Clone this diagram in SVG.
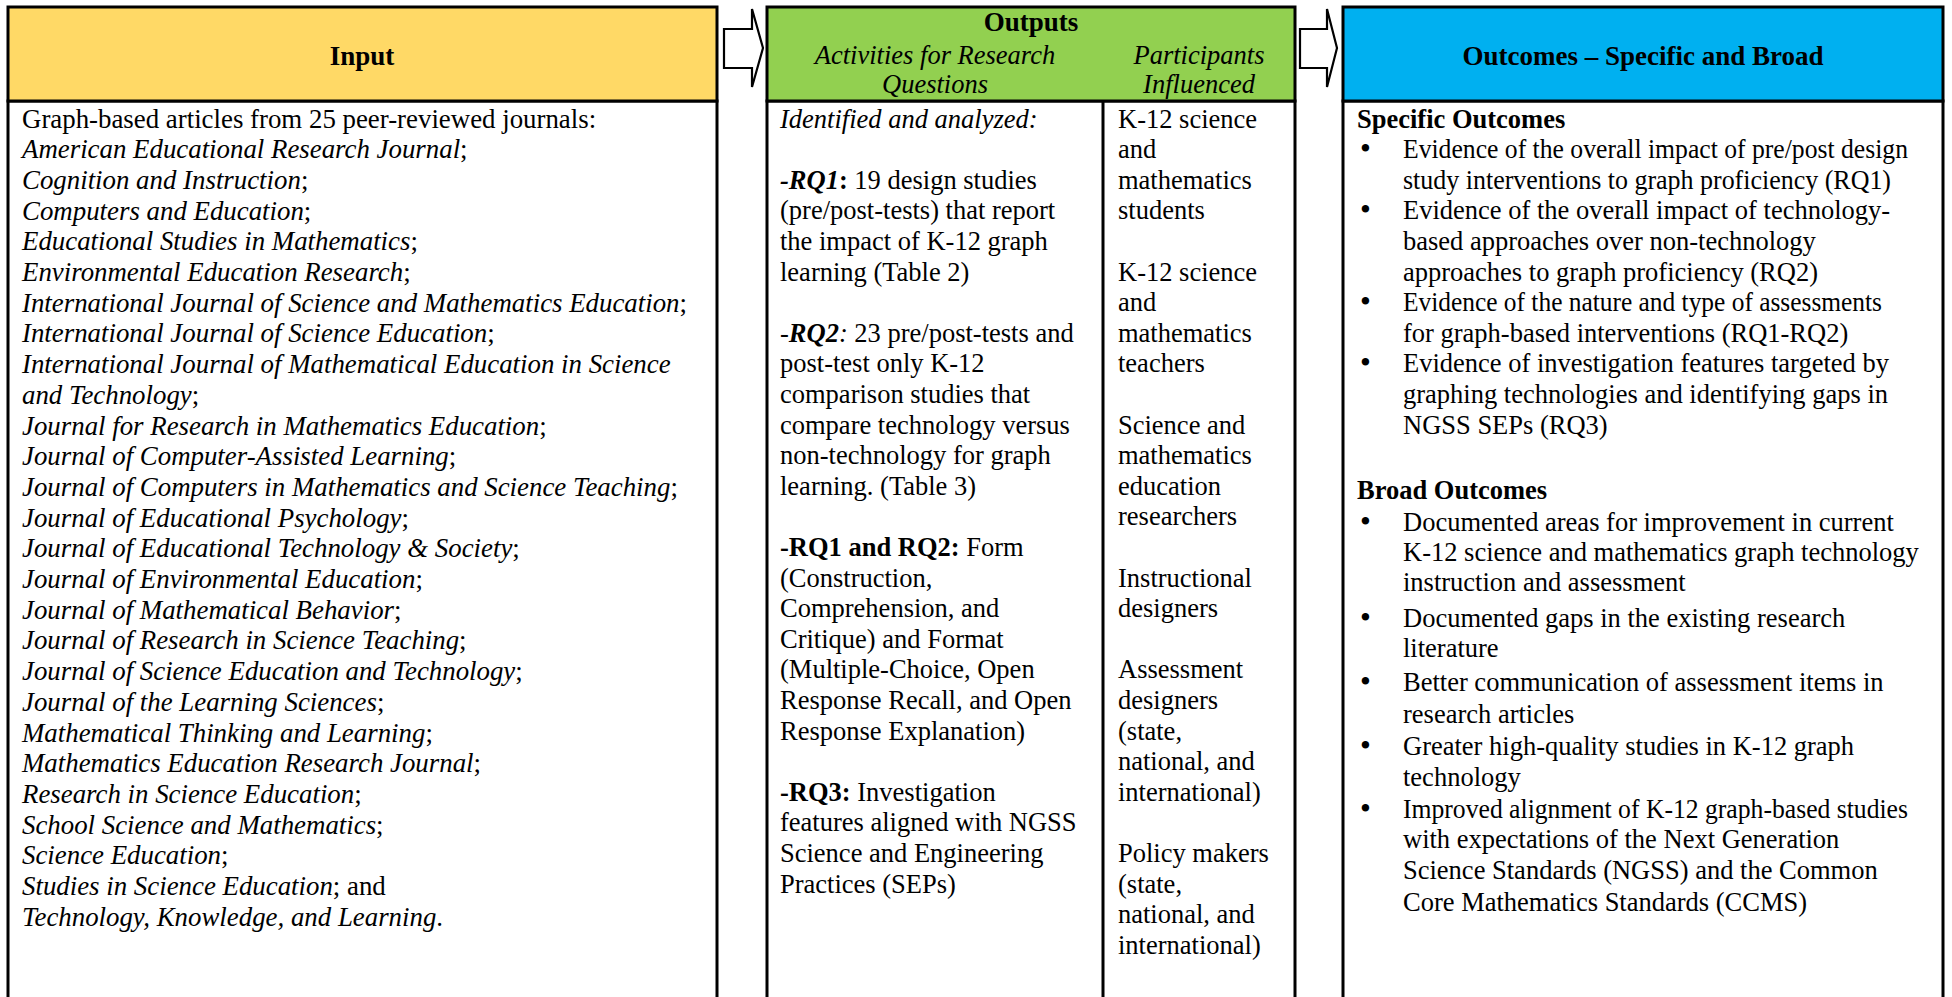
<svg xmlns="http://www.w3.org/2000/svg" width="1952" height="997" viewBox="0 0 1952 997">
  <style>
    text { font-family: "Liberation Serif", "Times New Roman", serif; font-size: 26.5px; fill: #000; }
    .src text { font-size: 26.85px; }
    .b { font-weight: bold; }
    .i { font-style: italic; }
    .hd { font-size: 27px; font-weight: bold; }
    .mid { text-anchor: middle; }
    .dot { font-size: 31px; }
    .frame { stroke: #000; stroke-width: 3; }
    .body { fill: #fff; }
    .arrow { fill: #fff; stroke: #000; stroke-width: 2.2; stroke-linejoin: miter; }
  </style>

  <rect width="1952" height="997" fill="#fff"/>

  <!-- Input column -->
  <g id="input">
    <rect class="frame body" x="8" y="101" width="709" height="910"/>
    <rect class="frame" x="8" y="7" width="709" height="94" fill="#FFD966"/>
    <text class="hd mid" x="362" y="65">Input</text>
    <g class="src">
      <text x="22" y="127.5">Graph-based articles from 25 peer-reviewed journals:</text>
      <text x="22" y="158.2"><tspan class="i">American Educational Research Journal</tspan>;</text>
      <text x="22" y="188.9"><tspan class="i">Cognition and Instruction</tspan>;</text>
      <text x="22" y="219.6"><tspan class="i">Computers and Education</tspan>;</text>
      <text x="22" y="250.3"><tspan class="i">Educational Studies in Mathematics</tspan>;</text>
      <text x="22" y="281"><tspan class="i">Environmental Education Research</tspan>;</text>
      <text x="22" y="311.7"><tspan class="i">International Journal of Science and Mathematics Education</tspan>;</text>
      <text x="22" y="342.4"><tspan class="i">International Journal of Science Education</tspan>;</text>
      <text x="22" y="373.1"><tspan class="i">International Journal of Mathematical Education in Science</tspan></text>
      <text x="22" y="403.8"><tspan class="i">and Technology</tspan>;</text>
      <text x="22" y="434.5"><tspan class="i">Journal for Research in Mathematics Education</tspan>;</text>
      <text x="22" y="465.2"><tspan class="i">Journal of Computer-Assisted Learning</tspan>;</text>
      <text x="22" y="495.9"><tspan class="i">Journal of Computers in Mathematics and Science Teaching</tspan>;</text>
      <text x="22" y="526.6"><tspan class="i">Journal of Educational Psychology</tspan>;</text>
      <text x="22" y="557.3"><tspan class="i">Journal of Educational Technology &amp; Society</tspan>;</text>
      <text x="22" y="588"><tspan class="i">Journal of Environmental Education</tspan>;</text>
      <text x="22" y="618.7"><tspan class="i">Journal of Mathematical Behavior</tspan>;</text>
      <text x="22" y="649.4"><tspan class="i">Journal of Research in Science Teaching</tspan>;</text>
      <text x="22" y="680.1"><tspan class="i">Journal of Science Education and Technology</tspan>;</text>
      <text x="22" y="710.8"><tspan class="i">Journal of the Learning Sciences</tspan>;</text>
      <text x="22" y="741.5"><tspan class="i">Mathematical Thinking and Learning</tspan>;</text>
      <text x="22" y="772.2"><tspan class="i">Mathematics Education Research Journal</tspan>;</text>
      <text x="22" y="802.9"><tspan class="i">Research in Science Education</tspan>;</text>
      <text x="22" y="833.6"><tspan class="i">School Science and Mathematics</tspan>;</text>
      <text x="22" y="864.3"><tspan class="i">Science Education</tspan>;</text>
      <text x="22" y="895"><tspan class="i">Studies in Science Education</tspan>; and</text>
      <text x="22" y="925.7"><tspan class="i">Technology, Knowledge, and Learning</tspan>.</text>
    </g>
  </g>

  <!-- Outputs column: activities and participants -->
  <g id="outputs">
    <rect class="frame body" x="767" y="101" width="528" height="910"/>
    <rect class="frame" x="767" y="7" width="528" height="94" fill="#92D050"/>
    <line class="frame" x1="1103" y1="101" x2="1103" y2="997"/>
    <text class="hd mid" x="1031" y="31">Outputs</text>
    <text class="i mid" x="935" y="64">Activities for Research</text>
    <text class="i mid" x="935" y="93">Questions</text>
    <text class="i mid" x="1199" y="64">Participants</text>
    <text class="i mid" x="1199" y="93">Influenced</text>

    <text class="i" x="780" y="127.5">Identified and analyzed:</text>
    <text x="780" y="188.7"><tspan class="b i">-RQ1</tspan><tspan class="b">:</tspan> 19 design studies</text>
    <text x="780" y="219.3">(pre/post-tests) that report</text>
    <text x="780" y="249.9">the impact of K-12 graph</text>
    <text x="780" y="280.5">learning (Table 2)</text>
    <text x="780" y="341.7">-<tspan class="b i">RQ2</tspan><tspan class="i">:</tspan> 23 pre/post-tests and</text>
    <text x="780" y="372.3">post-test only K-12</text>
    <text x="780" y="402.9">comparison studies that</text>
    <text x="780" y="433.5">compare technology versus</text>
    <text x="780" y="464.1">non-technology for graph</text>
    <text x="780" y="494.7">learning. (Table 3)</text>
    <text x="780" y="555.9"><tspan class="b">-RQ1 and RQ2:</tspan> Form</text>
    <text x="780" y="586.5">(Construction,</text>
    <text x="780" y="617.1">Comprehension, and</text>
    <text x="780" y="647.7">Critique) and Format</text>
    <text x="780" y="678.3">(Multiple-Choice, Open</text>
    <text x="780" y="708.9">Response Recall, and Open</text>
    <text x="780" y="739.5">Response Explanation)</text>
    <text x="780" y="800.7"><tspan class="b">-RQ3:</tspan> Investigation</text>
    <text x="780" y="831.3">features aligned with NGSS</text>
    <text x="780" y="861.9">Science and Engineering</text>
    <text x="780" y="892.5">Practices (SEPs)</text>

    <text x="1118" y="127.5">K-12 science</text>
    <text x="1118" y="158.1">and</text>
    <text x="1118" y="188.7">mathematics</text>
    <text x="1118" y="219.3">students</text>
    <text x="1118" y="280.5">K-12 science</text>
    <text x="1118" y="311.1">and</text>
    <text x="1118" y="341.7">mathematics</text>
    <text x="1118" y="372.3">teachers</text>
    <text x="1118" y="433.5">Science and</text>
    <text x="1118" y="464.1">mathematics</text>
    <text x="1118" y="494.7">education</text>
    <text x="1118" y="525.3">researchers</text>
    <text x="1118" y="586.5">Instructional</text>
    <text x="1118" y="617.1">designers</text>
    <text x="1118" y="678.3">Assessment</text>
    <text x="1118" y="708.9">designers</text>
    <text x="1118" y="739.5">(state,</text>
    <text x="1118" y="770.1">national, and</text>
    <text x="1118" y="800.7">international)</text>
    <text x="1118" y="861.9">Policy makers</text>
    <text x="1118" y="892.5">(state,</text>
    <text x="1118" y="923.1">national, and</text>
    <text x="1118" y="953.7">international)</text>
  </g>

  <!-- Outcomes column -->
  <g id="outcomes">
    <rect class="frame body" x="1343" y="101" width="600" height="910"/>
    <rect class="frame" x="1343" y="7" width="600" height="94" fill="#00B0F0"/>
    <text class="hd mid" x="1643" y="65">Outcomes – Specific and Broad</text>

    <text class="b" x="1357" y="127.5">Specific Outcomes</text>
    <text class="dot" x="1360" y="159">•</text>
    <text x="1403" y="158.1" textLength="505" lengthAdjust="spacingAndGlyphs">Evidence of the overall impact of pre/post design</text>
    <text x="1403" y="188.7" textLength="488" lengthAdjust="spacingAndGlyphs">study interventions to graph proficiency (RQ1)</text>
    <text class="dot" x="1360" y="220">•</text>
    <text x="1403" y="219.3">Evidence of the overall impact of technology-</text>
    <text x="1403" y="249.9">based approaches over non-technology</text>
    <text x="1403" y="280.5">approaches to graph proficiency (RQ2)</text>
    <text class="dot" x="1360" y="312">•</text>
    <text x="1403" y="311.1" textLength="479" lengthAdjust="spacingAndGlyphs">Evidence of the nature and type of assessments</text>
    <text x="1403" y="341.7">for graph-based interventions (RQ1-RQ2)</text>
    <text class="dot" x="1360" y="373">•</text>
    <text x="1403" y="372.3">Evidence of investigation features targeted by</text>
    <text x="1403" y="402.9">graphing technologies and identifying gaps in</text>
    <text x="1403" y="433.5">NGSS SEPs (RQ3)</text>

    <text class="b" x="1357" y="498.5">Broad Outcomes</text>
    <text class="dot" x="1360" y="532">•</text>
    <text x="1403" y="530.9">Documented areas for improvement in current</text>
    <text x="1403" y="560.7">K-12 science and mathematics graph technology</text>
    <text x="1403" y="590.6">instruction and assessment</text>
    <text class="dot" x="1360" y="628">•</text>
    <text x="1403" y="626.7">Documented gaps in the existing research</text>
    <text x="1403" y="656.6">literature</text>
    <text class="dot" x="1360" y="692">•</text>
    <text x="1403" y="691.4">Better communication of assessment items in</text>
    <text x="1403" y="722.6">research articles</text>
    <text class="dot" x="1360" y="756">•</text>
    <text x="1403" y="754.9">Greater high-quality studies in K-12 graph</text>
    <text x="1403" y="786">technology</text>
    <text class="dot" x="1360" y="819">•</text>
    <text x="1403" y="818.4" textLength="505" lengthAdjust="spacingAndGlyphs">Improved alignment of K-12 graph-based studies</text>
    <text x="1403" y="848.3">with expectations of the Next Generation</text>
    <text x="1403" y="879.4">Science Standards (NGSS) and the Common</text>
    <text x="1403" y="910.6">Core Mathematics Standards (CCMS)</text>
  </g>

  <!-- Block arrows between columns -->
  <g id="connectors">
    <polygon class="arrow" points="724,29 752,29 752,9 763,48 752,87 752,68 724,68"/>
    <polygon class="arrow" points="1300,29 1327,29 1327,9 1337,48 1327,87 1327,68 1300,68"/>
  </g>
</svg>
